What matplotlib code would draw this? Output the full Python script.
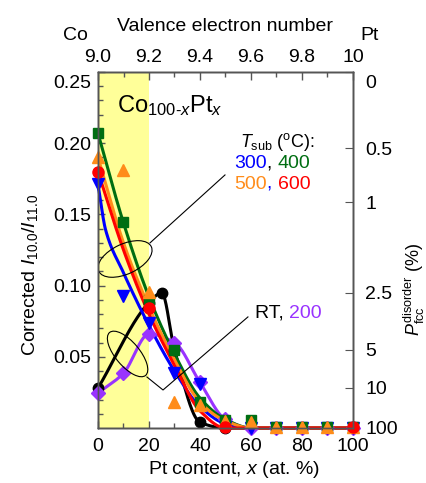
import numpy as np
import matplotlib
matplotlib.use('Agg')
import matplotlib.pyplot as plt
from matplotlib.patches import Ellipse
from matplotlib.transforms import ScaledTranslation

plt.rcParams['font.family'] = ['Liberation Sans', 'DejaVu Sans']
plt.rcParams['mathtext.fontset'] = 'custom'
plt.rcParams['mathtext.rm'] = 'Liberation Sans'
plt.rcParams['mathtext.it'] = 'Liberation Sans:italic'
plt.rcParams['mathtext.bf'] = 'Liberation Sans:bold'

# measured points (Pt content x, corrected I10.0/I11.0)
x_rt = [0, 20, 25, 30, 40, 50]
y_rt = [0.028, 0.088, 0.095, 0.055, 0.004, 0.0]
x_200 = [0, 10, 20, 30, 40, 50, 60, 70, 80, 90, 100]
y_200 = [0.0245, 0.0385, 0.066, 0.060, 0.032, 0.006, 0.0, 0.0, 0.0, 0.0, 0.0]
x_300 = [0, 10, 20, 30, 40, 50, 60, 70, 80, 90, 100]
y_300 = [0.171, 0.093, 0.074, 0.0385, 0.031, 0.001, 0.0, 0.0, 0.0, 0.0, 0.0]
x_400 = [0, 10, 20, 30, 40, 50, 60, 70, 80, 90, 100]
y_400 = [0.207, 0.145, 0.090, 0.055, 0.018, 0.0056, 0.0056, 0.001, 0.001, 0.001, 0.001]
x_500 = [0, 10, 20, 30, 40, 50, 60, 70, 80, 90, 100]
y_500 = [0.190, 0.181, 0.0955, 0.018, 0.016, 0.005, 0.004, 0.001, 0.001, 0.001, 0.001]
x_600 = [0, 20, 50, 100]
y_600 = [0.180, 0.084, 0.0007, 0.0007]

# guide curves
cx_300 = [0, 3, 10, 20, 30, 40, 50, 60, 100]
cy_300 = [0.171, 0.139, 0.109, 0.072, 0.040, 0.015, 0.003, 0.0, 0.0]
cx_400 = [0, 10, 20, 30, 40, 50, 60, 100]
cy_400 = [0.207, 0.144, 0.092, 0.052, 0.021, 0.006, 0.0, 0.0]
cx_500 = [0, 10, 20, 30, 40, 50, 60, 100]
cy_500 = [0.190, 0.130, 0.085, 0.048, 0.018, 0.005, 0.0, 0.0]
cx_600 = [0, 10, 20, 30, 40, 50, 60, 100]
cy_600 = [0.180, 0.125, 0.080, 0.044, 0.012, 0.0, 0.0, 0.0]
cx_rt = [0, 20, 25, 30, 40, 50, 100]
cy_rt = [0.028, 0.088, 0.095, 0.055, 0.004, 0.0, 0.0]
cx_200 = [0, 10, 20, 30, 40, 50, 60, 100]
cy_200 = [0.0245, 0.0385, 0.066, 0.060, 0.032, 0.006, 0.0, 0.0]

# top axis (valence electron number) and right axis (P_fcc disorder)
vec_ticks = [9.0, 9.2, 9.4, 9.6, 9.8, 10.0]
vec_labels = ['9.0', '9.2', '9.4', '9.6', '9.8', '10']
p_labels = ['0', '0.5', '1', '2.5', '5', '10', '100']
p_at_ratio = [0.25, 0.1966, 0.1587, 0.0950, 0.0548, 0.0281, 0.0]

c_rt = 'black'
c_200 = '#9933ff'
c_300 = '#0000ff'
c_400 = '#006e12'
c_500 = '#ff8c1a'
c_600 = '#ff0000'


def pchip(x, y, xn):
    x = np.asarray(x, float)
    y = np.asarray(y, float)
    h = np.diff(x)
    d = np.diff(y) / h
    m = np.zeros_like(y)
    for k in range(1, len(x) - 1):
        if d[k - 1] * d[k] > 0:
            w1 = 2 * h[k] + h[k - 1]
            w2 = h[k] + 2 * h[k - 1]
            m[k] = (w1 + w2) / (w1 / d[k - 1] + w2 / d[k])
    m[0] = d[0]
    m[-1] = d[-1]
    i = np.clip(np.searchsorted(x, xn) - 1, 0, len(h) - 1)
    t = (xn - x[i]) / h[i]
    return ((2 * t**3 - 3 * t**2 + 1) * y[i] + (t**3 - 2 * t**2 + t) * h[i] * m[i]
            + (-2 * t**3 + 3 * t**2) * y[i + 1] + (t**3 - t**2) * h[i] * m[i + 1])


fig = plt.figure(figsize=(4.27, 4.83), dpi=100)
ax = fig.add_axes([98 / 427, 55 / 483, 255 / 427, 356 / 483])
ax.set_xlim(0, 100)
ax.set_ylim(0, 0.25)
ax.axvspan(0, 20, color='#ffff99', zorder=0, lw=0)

xs = np.linspace(0, 100, 600)
curves = [(cx_rt, cy_rt, c_rt), (cx_200, cy_200, c_200), (cx_300, cy_300, c_300),
          (cx_400, cy_400, c_400), (cx_500, cy_500, c_500), (cx_600, cy_600, c_600)]
for i, (cx, cy, c) in enumerate(curves):
    ax.plot(xs, pchip(cx, cy, xs), color=c, lw=2.2, zorder=3 + i * 0.1, clip_on=False)

pts = [(x_rt, y_rt, c_rt, 'o', 7.5), (x_200, y_200, c_200, 'D', 7),
       (x_300, y_300, c_300, 'v', 8.5), (x_400, y_400, c_400, 's', 7.5),
       (x_500, y_500, c_500, '^', 8.5), (x_600, y_600, c_600, 'o', 8)]
for i, (px, py, c, mk, ms) in enumerate(pts):
    ax.plot(px, py, ls='none', marker=mk, ms=ms, color=c, mec=c, zorder=5 + i * 0.1,
            clip_on=False)

# lasso ellipses and leader lines
for (ex, ey, w, h, ang) in [(10.6, 0.1187, 0.58, 0.30, 25), (11.6, 0.052, 0.56, 0.24, -50)]:
    tr = fig.dpi_scale_trans + ScaledTranslation(ex, ey, ax.transData)
    ax.add_patch(Ellipse((0, 0), w, h, angle=ang, transform=tr, fill=False,
                         ec='black', lw=0.8, zorder=6))
ax.plot([20.4, 49.8], [0.130, 0.1777], color='black', lw=0.8, zorder=6, clip_on=False)
ax.plot([19.2, 25.5, 58.8], [0.0358, 0.0267, 0.078], color='black', lw=0.8, zorder=6)


def color_text(x, y, parts, size):
    t = ax.text(x, y, parts[0][0], color=parts[0][1], fontsize=size, va='baseline')
    for s, c in parts[1:]:
        t = ax.annotate(s, xy=(1, 0), xycoords=t, va='bottom', color=c, fontsize=size)


ax.text(7.5, 0.222, r'Co$_{\mathrm{100}\text{-}x}$Pt$_x$', fontsize=17, va='baseline')
ax.text(55.5, 0.1975, r'$T_\mathrm{sub}$ ($^\mathrm{o}$C):', fontsize=13, va='baseline')
color_text(53.5, 0.1825, [('300', c_300), (', ', 'black'), ('400', c_400)], 14)
color_text(53.5, 0.168, [('500', c_500), (', ', c_300), ('600', c_600)], 14)
color_text(61.5, 0.0775, [('RT, ', 'black'), ('200', c_200)], 14)

spine_c = '#555555'
ax.set_xticks([0, 20, 40, 60, 80, 100])
ax.set_xticks([10, 30, 50, 70, 90], minor=True)
ax.set_yticks([0.05, 0.10, 0.15, 0.20, 0.25])
ax.set_yticklabels(['0.05', '0.10', '0.15', '0.20', '0.25'])
ax.set_yticks(np.arange(0.01, 0.25, 0.01), minor=True)
ax.tick_params(which='both', direction='in', color=spine_c, labelsize=14, top=False, right=False)
ax.tick_params(which='major', length=5, width=1)
ax.tick_params(which='minor', length=3.5, width=1)
ax.tick_params(axis='x', pad=7.5)
ax.tick_params(axis='y', pad=5)
ax.set_xlabel(r'Pt content, $x$ (at. %)', fontsize=14)
ax.xaxis.set_label_coords(0.533, -0.088)
ax.set_ylabel(r'Corrected $I_{10.0}/I_{11.0}$', fontsize=14)
ax.yaxis.set_label_coords(-0.227, 0.43)

ax_top = ax.twiny()
ax_top.set_xlim(9, 10)
ax_top.set_xticks(vec_ticks)
ax_top.set_xticklabels(vec_labels)
ax_top.set_xticks(np.arange(9.1, 10.0, 0.2), minor=True)
ax_top.tick_params(which='both', direction='in', color=spine_c, labelsize=14, pad=4)
ax_top.tick_params(which='major', length=6, width=1)
ax_top.tick_params(which='minor', length=3.5, width=1)
ax_top.set_xlabel('Valence electron number', fontsize=14)
ax_top.xaxis.set_label_coords(0.5, 1.115)

ax_r = ax.twinx()
ax_r.set_ylim(0, 0.25)
ax_r.set_yticks(p_at_ratio)
ax_r.set_yticklabels(p_labels)
ax_r.tick_params(which='both', direction='in', color=spine_c, labelsize=14, length=6, pad=9)
ax_r.set_ylabel(r'$P_\mathrm{fcc}^\mathrm{disorder}$ (%)', fontsize=13)
ax_r.yaxis.set_label_coords(1.19, 0.39)

# the top labels sit a little below the top tick in the original
shift = ScaledTranslation(0, -0.09, fig.dpi_scale_trans)
for lab in (ax.get_yticklabels()[-1], ax_r.get_yticklabels()[0]):
    lab.set_transform(lab.get_transform() + shift)

for a in (ax, ax_top, ax_r):
    for sp in a.spines.values():
        sp.set_color(spine_c)
        sp.set_linewidth(1)

fig.text(75 / 427, 1 - 35 / 483, 'Co', fontsize=14, ha='center', va='center')
fig.text(370 / 427, 1 - 35 / 483, 'Pt', fontsize=14, ha='center', va='center')

fig.savefig('out.png', dpi=100)
